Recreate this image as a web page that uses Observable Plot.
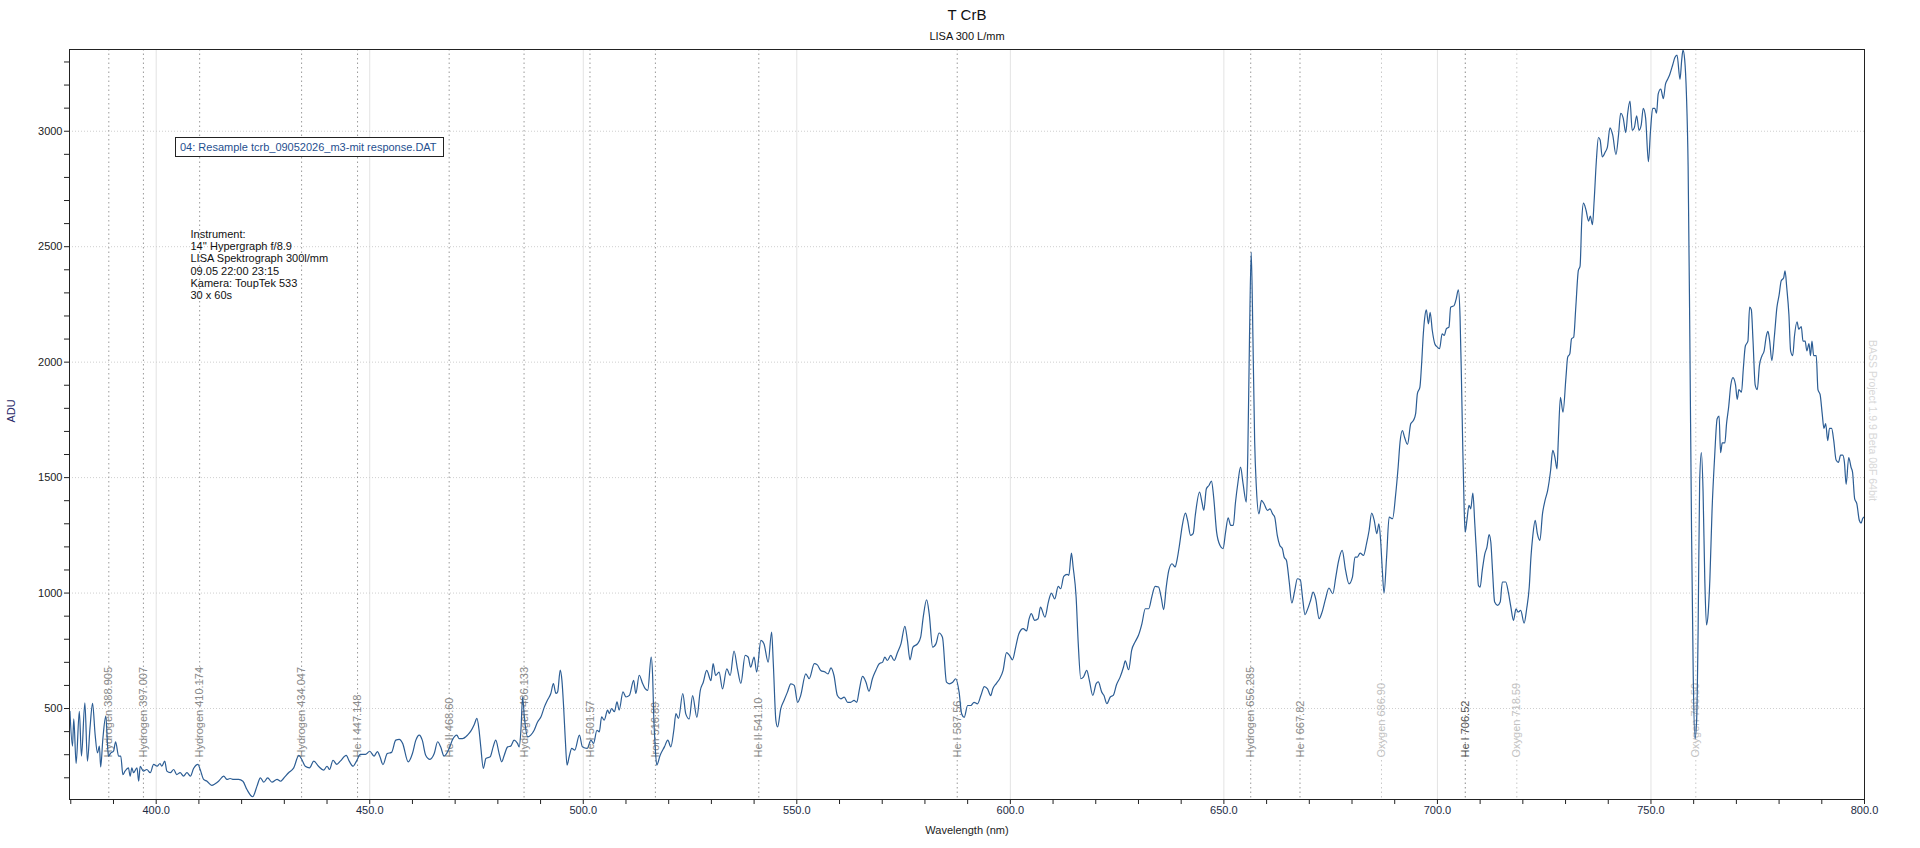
<!DOCTYPE html>
<html>
<head>
<meta charset="utf-8">
<script src="https://cdn.jsdelivr.net/npm/d3@7"></script>
<script src="https://cdn.jsdelivr.net/npm/@observablehq/plot@0.6"></script>
<style>
html, body { margin: 0; padding: 0; background: #fff; overflow: hidden; }
#wrap { position: relative; width: 1920px; height: 848px; }
#legend {
  position: absolute; left: 175px; top: 137px; width: 269px; height: 20px;
  box-sizing: border-box; border: 1px solid #222; background: #fff;
  font: 11px "Liberation Sans", Arial, sans-serif; color: #1f4f8f;
  line-height: 18px; padding-left: 4px; white-space: nowrap;
}
</style>
</head>
<body>
<div id="wrap"><div id="legend"></div></div>
<script>
// ---- Data ----
const title = "T CrB";
const subtitle = "LISA 300 L/mm";
const legendLabel = "04: Resample tcrb_09052026_m3-mit response.DAT";
const instrumentLines = ["Instrument:", "14'' Hypergraph f/8.9", "LISA Spektrograph 300l/mm", "09.05 22:00 23:15", "Kamera: ToupTek 533", "30 x 60s"];
const watermark = "BASS Project 1.9.9 Beta 08F 64bit";
const xLabel = "Wavelength (nm)";
const yLabel = "ADU";

const wavelength = [
  379.8,380.4,380.7,381.25,382.0,382.5,383.3,383.9,384.5,385.1,385.7,386.25,386.7,387.0,387.5,388.2,388.8,389.4,390.0,390.5,391.2,391.7,392.2,392.7,393.5,393.9,394.3,394.7,395.5,395.9,396.25,397.0,397.8,398.6,399.4,400.2,400.9,401.3,402.0,402.5,403.3,404.1,404.8,405.6,406.4,407.2,408.0,408.75,409.8,410.3,411.1,411.9,413.0,413.8,414.6,415.8,416.6,417.3,418.1,419.3,420.3,421.25,422.6,423.6,424.4,425.2,426.1,427.1,428.3,429.1,429.8,431.0,432.2,433.4,434.1,434.9,435.9,436.9,438.0,439.2,440.0,440.6,441.4,442.3,443.1,444.5,445.2,446.1,446.9,447.8,449.0,450.0,
  451.0,451.8,452.4,453.1,454.1,455.1,456.1,456.9,457.7,459.0,460.0,460.8,461.6,462.3,463.1,464.1,465.1,465.9,466.6,467.4,468.6,469.4,470.4,470.9,471.7,472.9,473.7,474.5,475.1,475.6,476.0,476.6,477.2,478.2,478.9,479.5,480.3,480.9,481.5,482.3,483.0,483.8,484.6,485.0,485.4,485.8,486.2,487.0,487.7,488.5,489.3,490.1,490.9,491.6,492.4,493.0,493.6,494.0,494.6,495.0,495.4,495.8,496.2,496.7,497.3,498.0,499.1,499.8,500.9,501.8,502.4,503.2,503.75,504.3,504.9,505.7,506.1,506.6,507.3,507.9,508.4,509.3,510.0,510.8,511.8,512.3,513.1,513.9,514.5,515.1,515.9,516.25,516.5,516.8,517.2,518.0,519.0,519.8,520.5,521.2,521.7,522.3,523.3,
  524.0,524.8,525.6,526.6,527.4,528.1,528.9,529.9,530.4,531.0,531.8,532.6,533.6,534.4,535.3,536.1,536.9,537.9,538.6,539.2,540.0,540.6,541.6,542.3,543.3,544.1,544.5,545.1,545.5,546.25,547.0,547.8,548.6,549.4,550.2,550.9,552.1,552.9,554.1,554.8,555.6,556.6,557.3,558.0,558.7,559.5,560.3,561.1,561.9,562.6,563.4,564.05,564.6,565.4,566.2,566.9,567.7,568.5,569.3,570.1,570.6,571.2,572.0,572.8,573.6,574.4,575.3,575.9,576.5,577.2,578.3,579.0,579.6,580.4,581.0,581.8,582.6,583.3,584.1,585.05,585.7,586.5,587.2,588.0,588.6,589.2,590.0,590.75,591.5,592.3,593.1,593.9,594.65,595.4,
  595.9,596.7,597.5,598.3,599.1,599.8,600.5,601.25,602.0,603.0,603.8,604.4,604.9,605.7,606.5,607.05,608.1,608.9,609.6,610.4,611.2,611.8,612.5,613.3,613.7,614.3,614.7,615.4,615.9,616.5,617.1,617.9,618.5,619.3,620.1,620.6,621.4,621.9,622.6,623.4,624.1,624.9,625.7,626.5,626.9,627.7,628.4,629.2,630.0,630.8,631.6,632.4,633.15,633.9,634.7,635.3,635.9,636.5,637.1,637.85,638.6,639.0,639.65,640.2,641.0,641.5,642.2,642.8,643.3,644.3,644.9,645.3,645.9,646.5,647.1,647.6,648.3,649.1,649.8,650.4,651.0,651.6,652.2,652.7,653.3,653.9,654.5,655.25,655.6,656.0,656.4,656.8,657.2,657.6,658.2,658.8,659.4,660.2,660.8,661.4,661.9,662.5,663.1,663.7,664.1,664.65,665.3,665.9,666.6,667.2,667.9,668.4,669.0,
  669.5,670.3,670.9,671.5,672.3,673.0,673.8,674.6,675.5,676.2,676.8,677.7,678.5,679.3,680.1,680.7,681.25,681.9,682.7,683.4,684.0,684.6,685.2,685.8,686.3,686.7,687.1,687.5,688.1,688.7,689.5,690.2,690.8,691.25,691.8,692.3,693.0,693.75,694.4,694.9,695.3,695.9,696.25,696.7,697.0,697.4,697.9,698.3,698.8,699.4,700.0,700.5,701.1,701.6,702.1,702.7,703.1,703.9,704.4,704.9,705.3,705.6,705.9,706.25,706.5,706.9,707.4,707.8,708.3,708.75,709.2,709.6,710.0,710.5,711.1,711.6,712.1,712.5,712.9,713.4,714.1,714.7,715.2,716.0,716.6,717.2,717.8,718.4,718.9,719.5,720.3,720.9,721.5,721.9,722.3,722.9,723.4,724.0,724.6,725.2,725.8,726.5,727.0,727.5,728.0,728.3,728.8,729.4,730.1,730.5,731.0,731.4,731.9,732.4,733.0,
  733.4,733.8,734.2,734.8,735.4,735.8,736.3,736.7,737.2,737.7,738.1,738.6,739.3,739.8,740.4,741.05,741.8,742.4,742.9,743.5,744.1,744.55,745.1,745.6,746.1,746.65,747.2,747.7,748.2,748.75,749.4,749.9,750.4,750.9,751.3,751.7,752.3,752.9,753.4,753.9,754.4,755.1,755.6,756.1,756.8,757.2,757.5,757.9,758.3,758.7,759.1,759.5,759.9,760.3,760.7,761.05,761.4,761.8,762.2,762.6,763.0,763.4,763.8,764.3,764.9,765.5,765.95,766.3,766.7,767.3,767.7,768.2,768.7,769.2,769.8,770.2,770.6,771.2,771.6,772.1,772.7,773.1,773.5,773.9,774.4,774.9,775.4,776.0,776.5,777.0,777.4,777.8,778.3,778.9,779.5,780.0,780.5,781.05,781.4,781.8,782.3,782.7,783.2,783.6,784.2,784.6,785.2,785.6,786.1,786.5,787.0,787.35,787.7,788.1,788.7,789.1,789.6,790.1,790.5,790.9,791.4,791.8,792.3,792.8,793.35,793.9,794.4,794.9,795.3,795.7,796.3,796.85,797.2,797.7,798.2,798.8,799.2,799.6,800.0
];
const adu = [
  488,337,455,262,488,294,525,272,416,522,387,308,337,247,366,467,294,308,315,356,294,294,214,229,243,207,243,222,243,185,250,229,236,222,258,250,262,250,272,229,222,236,214,222,207,222,207,240,258,236,193,185,167,174,185,207,193,197,193,193,185,149,118,164,200,181,200,181,193,185,197,222,243,297,279,250,243,272,250,233,250,236,276,258,272,297,272,250,272,301,301,315,
  294,313,291,257,305,310,363,366,349,269,305,363,385,363,298,280,305,356,334,294,327,366,385,370,370,385,403,432,457,406,334,241,284,291,334,363,305,269,298,334,337,363,349,334,406,550,464,377,385,406,442,464,507,536,565,608,565,572,666,622,507,363,255,291,327,320,385,334,327,363,349,406,399,464,450,493,478,500,486,529,493,572,550,557,622,565,644,608,586,579,723,637,464,349,255,298,334,363,334,406,478,457,565,
  477,455,556,462,578,614,665,621,694,643,658,585,672,643,749,672,609,730,723,679,723,658,795,781,701,831,694,448,420,500,535,571,607,600,527,556,650,629,694,689,665,658,650,676,643,556,542,549,527,527,535,527,578,639,614,575,629,665,694,701,723,708,730,708,744,781,856,795,711,766,781,809,896,971,910,766,781,827,809,614,607,614,629,571,477,462,513,513,527,520,556,595,585,556,
  586,608,629,665,742,730,711,766,824,846,836,889,911,882,889,939,896,961,1000,975,1029,1019,1072,1081,1077,1173,1113,983,781,629,636,665,622,557,608,615,571,557,521,550,557,605,636,680,706,668,752,788,817,867,932,932,986,1029,1026,983,928,1026,1098,1127,1113,1141,1214,1286,1346,1315,1250,1257,1336,1437,1390,1358,1452,1466,1485,1416,1264,1206,1192,1264,1326,1293,1293,1390,1480,1545,1473,1394,1603,2108,2476,2108,1661,1459,1343,1401,1387,1358,1365,1343,1329,1250,1206,1192,1156,1141,1048,957,1012,1062,1058,983,906,
  925,968,1004,975,889,918,975,1022,997,1069,1134,1185,1098,1040,1069,1156,1156,1173,1163,1214,1271,1346,1315,1257,1300,1228,1098,1000,1156,1329,1322,1423,1545,1654,1704,1675,1644,1733,1748,1777,1863,1892,1978,2123,2188,2226,2166,2216,2137,2079,2065,2058,2123,2116,2145,2152,2238,2245,2274,2313,2195,1950,1661,1372,1264,1315,1380,1365,1433,1300,1156,1033,1026,1098,1170,1199,1253,1221,1098,961,947,961,1048,1048,1004,939,882,932,918,925,870,932,1026,1156,1242,1315,1257,1228,1343,1401,1444,1531,1618,1589,1538,1661,1848,1783,1935,2022,2036,2101,2108,2238,2397,
  2416,2616,2689,2658,2611,2632,2595,2700,2868,2973,2962,2889,2910,2931,3015,2983,2899,2983,3078,3057,2994,3078,3130,3004,3015,3067,3004,3025,3099,3057,2868,3004,3099,3099,3078,3162,3183,3141,3204,3225,3246,3288,3319,3330,3225,3309,3351,3309,3162,2847,2112,1272,642,369,453,852,1482,1608,1440,1062,862,914,1062,1356,1587,1755,1766,1608,1650,1650,1734,1807,1902,1933,1902,1839,1881,1870,1965,2070,2091,2238,2227,2091,1902,1881,1986,2028,2049,2112,2133,2091,2007,2112,2238,2290,2353,2364,2395,2322,2206,2049,2028,2112,2175,2143,2154,2091,2091,2049,2080,2028,2091,2028,2028,1881,1860,1776,1713,1734,1660,1713,1713,1660,1576,1566,1597,1597,1566,1471,1587,1545,1524,1408,1387,1314,1303,1324,1330
];

const lineWavelengths = [388.905, 397.007, 410.174, 434.047, 447.148, 468.60, 486.133, 501.57, 516.89, 541.10, 587.56, 656.285, 667.82, 686.90, 706.52, 718.59, 760.50];
const lineLabels = ["Hydrogen 388.905", "Hydrogen 397.007", "Hydrogen 410.174", "Hydrogen 434.047", "He I 447.148", "He II 468.60", "Hydrogen 486.133", "He I 501.57", "Iron 516.89", "He II 541.10", "He I 587.56", "Hydrogen 656.285", "He I 667.82", "Oxygen 686.90", "He I 706.52", "Oxygen 718.59", "Oxygen 760.50"];
const lineKinds = ["n","n","n","n","n","n","n","n","n","n","n","n","n","o","d","o","o"];

const xDomain = [379.7, 800];
const yDomain = [106, 3354];
const xTicks = d3.range(380, 801, 10);
const yTicks = d3.range(200, 3301, 100);
const xGrid = [400, 450, 500, 550, 600, 650, 700, 750];
const yGrid = [500, 1000, 1500, 2000, 2500, 3000];

// ---- Styles ----
const FONT = '"Liberation Sans", Arial, sans-serif';
const labelFill = {n: "#8a8a8a", o: "#c2c2c2", d: "#555555"};
const ruleStroke = {n: "#9a9a9a", o: "#c8c8c8", d: "#8a8a8a"};

document.getElementById("legend").textContent = legendLabel;

const idx = d3.range(wavelength.length);
const lidx = d3.range(lineWavelengths.length);

const chart = Plot.plot({
  width: 1920,
  height: 848,
  marginLeft: 69,
  marginRight: 56,
  marginTop: 49,
  marginBottom: 49,
  style: {fontFamily: FONT, fontSize: "11px", color: "#222", background: "#fff"},
  x: {domain: xDomain, label: null},
  y: {domain: yDomain, label: null},
  color: {type: "identity"},
  marks: [
    Plot.ruleX(xGrid, {stroke: "#e3e3e3", strokeWidth: 1}),
    Plot.ruleY(yGrid, {stroke: "#cfcfcf", strokeDasharray: "1,2"}),
    Plot.ruleX(lidx, {x: i => lineWavelengths[i], stroke: i => ruleStroke[lineKinds[i]], strokeDasharray: "1.5,3"}),
    Plot.text(lidx, {
      x: i => lineWavelengths[i], text: i => lineLabels[i], fill: i => labelFill[lineKinds[i]],
      frameAnchor: "bottom", dy: -42, rotate: -90, textAnchor: "start", lineAnchor: "middle", fontSize: 11
    }),
    Plot.line(idx, {x: i => wavelength[i], y: i => adu[i], stroke: "#2c5d94", strokeWidth: 1.2, curve: "monotone-x"}),
    Plot.frame({stroke: "#222", strokeWidth: 1}),
    Plot.axisX({ticks: xTicks, tickFormat: d => d % 50 === 0 ? d.toFixed(1) : "", tickSize: 5, tickPadding: 2, label: null, fill: "#1c2a44"}),
    Plot.axisY({ticks: yTicks, tickFormat: d => d % 500 === 0 ? String(d) : "", tickSize: 5, tickPadding: 2, label: null, fill: "#222"}),
    Plot.text([title], {frameAnchor: "top", dy: -34, lineAnchor: "middle", fontSize: 15, fill: "#111"}),
    Plot.text([subtitle], {frameAnchor: "top", dy: -13, lineAnchor: "middle", fontSize: 11, fill: "#111"}),
    Plot.text([instrumentLines.join("\n")], {frameAnchor: "top-left", dx: 121, dy: 215, textAnchor: "start", lineAnchor: "middle", lineHeight: 1.12, fontSize: 11, fill: "#111"}),
    Plot.text([yLabel], {frameAnchor: "left", dx: -58, dy: -2, rotate: -90, lineAnchor: "middle", fontSize: 11, fill: "#2a2a6a"}),
    Plot.text([xLabel], {frameAnchor: "bottom", dy: 31, lineAnchor: "middle", fontSize: 11, fill: "#222"}),
    Plot.text([watermark], {frameAnchor: "right", dx: 8, dy: -4, rotate: 90, lineAnchor: "middle", textAnchor: "middle", fontSize: 10.5, fill: "#d8d8d8"})
  ]
});
chart.style.position = "absolute";
chart.style.left = "0px";
chart.style.top = "0px";
document.getElementById("wrap").insertBefore(chart, document.getElementById("legend"));
</script>
</body>
</html>
